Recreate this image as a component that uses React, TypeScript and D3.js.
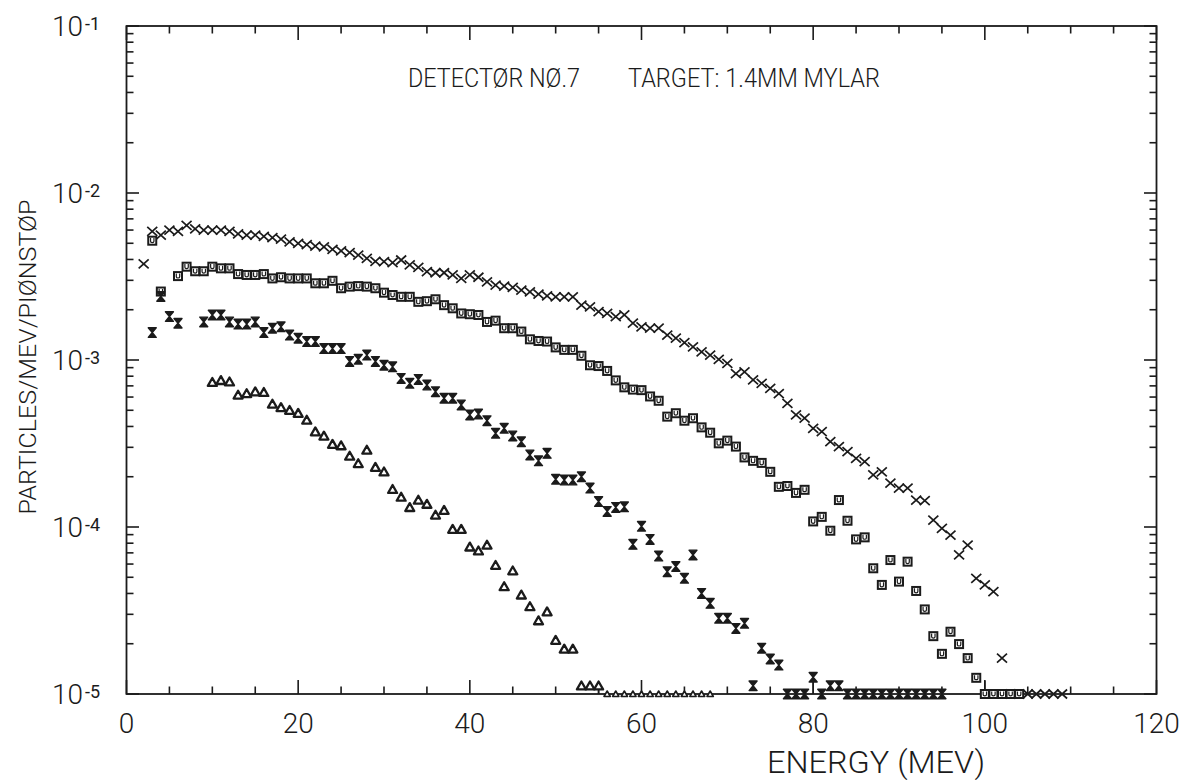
import React, { useRef, useEffect } from "react";
import * as d3 from "d3";

const WIDTH = 1191;
const HEIGHT = 780;

// energy (MeV), particles / MeV / pion stop  (values at 1e-5 sit on the axis)
const crossData: [number, number][] = [
  [2, 3.76e-3], [3, 5.9e-3], [4, 5.6e-3], [5, 6.0e-3], [6, 5.9e-3], [7, 6.4e-3], [8, 6.1e-3],
  [9, 6.0e-3], [10, 6.0e-3], [11, 6.0e-3], [12, 5.9e-3], [13, 5.7e-3], [14, 5.6e-3], [15, 5.6e-3],
  [16, 5.5e-3], [17, 5.4e-3], [18, 5.3e-3], [19, 5.1e-3], [20, 5.0e-3], [21, 4.9e-3], [22, 4.8e-3],
  [23, 4.75e-3], [24, 4.6e-3], [25, 4.5e-3], [26, 4.4e-3], [27, 4.25e-3], [28, 4.06e-3], [29, 3.9e-3],
  [30, 3.88e-3], [31, 3.83e-3], [32, 3.97e-3], [33, 3.71e-3], [34, 3.59e-3], [35, 3.38e-3], [36, 3.33e-3],
  [37, 3.33e-3], [38, 3.23e-3], [39, 3.08e-3], [40, 3.23e-3], [41, 3.13e-3], [42, 2.94e-3], [43, 2.81e-3],
  [44, 2.77e-3], [45, 2.72e-3], [46, 2.62e-3], [47, 2.56e-3], [48, 2.48e-3], [49, 2.42e-3], [50, 2.39e-3],
  [51, 2.39e-3], [52, 2.39e-3], [53, 2.13e-3], [54, 2.08e-3], [55, 1.95e-3], [56, 1.9e-3], [57, 1.82e-3],
  [58, 1.86e-3], [59, 1.66e-3], [60, 1.58e-3], [61, 1.55e-3], [62, 1.55e-3], [63, 1.41e-3], [64, 1.35e-3],
  [65, 1.27e-3], [66, 1.2e-3], [67, 1.12e-3], [68, 1.07e-3], [69, 1.01e-3], [70, 9.55e-4], [71, 8.3e-4],
  [72, 8.5e-4], [73, 7.6e-4], [74, 7.25e-4], [75, 6.76e-4], [76, 6.3e-4], [77, 5.5e-4], [78, 4.69e-4],
  [79, 4.48e-4], [80, 3.9e-4], [81, 3.72e-4], [82, 3.24e-4], [83, 3.03e-4], [84, 2.83e-4], [85, 2.58e-4],
  [86, 2.46e-4], [87, 2.05e-4], [88, 2.14e-4], [89, 1.83e-4], [90, 1.71e-4], [91, 1.71e-4], [92, 1.45e-4],
  [93, 1.44e-4], [94, 1.1e-4], [95, 9.8e-5], [96, 8.95e-5], [97, 6.8e-5], [98, 7.8e-5], [99, 4.93e-5],
  [100, 4.5e-5], [101, 4.1e-5], [102, 1.64e-5],
  [103, 1e-5], [104, 1e-5], [105, 1e-5], [106, 1e-5], [107, 1e-5], [108, 1e-5], [109, 1e-5],
];

const squareData: [number, number][] = [
  [3, 5.18e-3], [4, 2.57e-3], [6, 3.18e-3], [7, 3.62e-3], [8, 3.4e-3], [9, 3.4e-3], [10, 3.62e-3],
  [11, 3.54e-3], [12, 3.54e-3], [13, 3.27e-3], [14, 3.23e-3], [15, 3.23e-3], [16, 3.27e-3], [17, 3.08e-3],
  [18, 3.13e-3], [19, 3.08e-3], [20, 3.08e-3], [21, 3.08e-3], [22, 2.88e-3], [23, 2.88e-3], [24, 2.98e-3],
  [25, 2.69e-3], [26, 2.75e-3], [27, 2.77e-3], [28, 2.75e-3], [29, 2.69e-3], [30, 2.53e-3], [31, 2.45e-3],
  [32, 2.39e-3], [33, 2.39e-3], [34, 2.23e-3], [35, 2.25e-3], [36, 2.31e-3], [37, 2.13e-3], [38, 2.04e-3],
  [39, 1.9e-3], [40, 1.88e-3], [41, 1.86e-3], [42, 1.69e-3], [43, 1.72e-3], [44, 1.55e-3], [45, 1.55e-3],
  [46, 1.48e-3], [47, 1.33e-3], [48, 1.3e-3], [49, 1.29e-3], [50, 1.19e-3], [51, 1.15e-3], [52, 1.15e-3],
  [53, 1.06e-3], [54, 9.3e-4], [55, 9.2e-4], [56, 8.6e-4], [57, 7.55e-4], [58, 6.86e-4], [59, 6.65e-4],
  [60, 6.6e-4], [61, 6.05e-4], [62, 5.7e-4], [63, 4.58e-4], [64, 4.8e-4], [65, 4.33e-4], [66, 4.48e-4],
  [67, 3.95e-4], [68, 3.67e-4], [69, 3.17e-4], [70, 3.29e-4], [71, 3.03e-4], [72, 2.61e-4], [73, 2.49e-4],
  [74, 2.42e-4], [75, 2.14e-4], [76, 1.74e-4], [77, 1.76e-4], [78, 1.6e-4], [79, 1.67e-4], [80, 1.08e-4],
  [81, 1.15e-4], [82, 9.5e-5], [83, 1.45e-4], [84, 1.09e-4], [85, 8.43e-5], [86, 8.67e-5], [87, 5.66e-5],
  [88, 4.5e-5], [89, 6.34e-5], [90, 4.71e-5], [91, 6.2e-5], [92, 4.14e-5], [93, 3.21e-5], [94, 2.22e-5],
  [95, 1.74e-5], [96, 2.36e-5], [97, 1.99e-5], [98, 1.64e-5], [99, 1.25e-5],
  [100, 1e-5], [101, 1e-5], [102, 1e-5], [103, 1e-5], [104, 1e-5],
];

const hourglassData: [number, number][] = [
  [3, 1.46e-3], [4, 2.4e-3], [5, 1.82e-3], [6, 1.66e-3], [9, 1.69e-3], [10, 1.86e-3], [11, 1.86e-3],
  [12, 1.69e-3], [13, 1.64e-3], [14, 1.64e-3], [15, 1.69e-3], [16, 1.46e-3], [17, 1.55e-3], [18, 1.58e-3],
  [19, 1.41e-3], [20, 1.35e-3], [21, 1.29e-3], [22, 1.29e-3], [23, 1.17e-3], [24, 1.17e-3], [25, 1.17e-3],
  [26, 9.8e-4], [27, 1.01e-3], [28, 1.07e-3], [29, 9.8e-4], [30, 9.3e-4], [31, 9.1e-4], [32, 7.76e-4],
  [33, 7.25e-4], [34, 7.65e-4], [35, 7.08e-4], [36, 6.46e-4], [37, 5.9e-4], [38, 5.9e-4], [39, 5.38e-4],
  [40, 4.69e-4], [41, 4.75e-4], [42, 4.33e-4], [43, 3.64e-4], [44, 3.9e-4], [45, 3.51e-4], [46, 3.24e-4],
  [47, 2.7e-4], [48, 2.49e-4], [49, 2.76e-4], [50, 1.93e-4], [51, 1.91e-4], [52, 1.91e-4], [53, 2.0e-4],
  [54, 1.71e-4], [55, 1.42e-4], [56, 1.24e-4], [57, 1.31e-4], [58, 1.32e-4], [59, 7.87e-5], [60, 1.01e-4],
  [61, 8.43e-5], [62, 6.7e-5], [63, 5.4e-5], [64, 5.8e-5], [65, 4.93e-5], [66, 6.8e-5], [67, 4.0e-5],
  [68, 3.49e-5], [69, 2.84e-5], [70, 2.84e-5], [71, 2.47e-5], [72, 2.65e-5], [73, 1.12e-5], [74, 1.88e-5],
  [75, 1.62e-5], [76, 1.49e-5], [77, 1e-5], [78, 1e-5], [79, 1e-5], [80, 1.26e-5], [81, 1e-5],
  [82, 1.12e-5], [83, 1.12e-5], [84, 1e-5], [85, 1e-5], [86, 1e-5], [87, 1e-5], [88, 1e-5], [89, 1e-5],
  [90, 1e-5], [91, 1e-5], [92, 1e-5], [93, 1e-5], [94, 1e-5], [95, 1e-5],
];

const triangleData: [number, number][] = [
  [10, 7.35e-4], [11, 7.55e-4], [12, 7.4e-4], [13, 6.17e-4], [14, 6.3e-4], [15, 6.46e-4], [16, 6.4e-4],
  [17, 5.45e-4], [18, 5.2e-4], [19, 5.0e-4], [20, 4.8e-4], [21, 4.37e-4], [22, 3.72e-4], [23, 3.51e-4],
  [24, 3.13e-4], [25, 3.07e-4], [26, 2.66e-4], [27, 2.4e-4], [28, 2.89e-4], [29, 2.28e-4], [30, 2.14e-4],
  [31, 1.68e-4], [32, 1.51e-4], [33, 1.31e-4], [34, 1.45e-4], [35, 1.37e-4], [36, 1.18e-4], [37, 1.26e-4],
  [38, 9.7e-5], [39, 9.7e-5], [40, 7.6e-5], [41, 7.2e-5], [42, 7.8e-5], [43, 5.9e-5], [44, 4.4e-5],
  [45, 5.47e-5], [46, 3.92e-5], [47, 3.34e-5], [48, 2.75e-5], [49, 3.11e-5], [50, 2.1e-5], [51, 1.86e-5],
  [52, 1.86e-5], [53, 1.12e-5], [54, 1.12e-5], [55, 1.12e-5],
  [56, 1e-5], [57, 1e-5], [58, 1e-5], [59, 1e-5], [60, 1e-5], [61, 1e-5], [62, 1e-5], [63, 1e-5],
  [64, 1e-5], [65, 1e-5], [66, 1e-5], [67, 1e-5], [68, 1e-5],
];

// lower error bars that reach the axis: energy, upper value
const errorBars: [number, number][] = [[55, 1.12e-5], [80, 1.26e-5], [100, 1.2e-5]];

const xTickLabels = [0, 20, 40, 60, 80, 100, 120];
const yDecades = [-1, -2, -3, -4, -5];

const INK = "#1b1b1b";
const FONT = "Roboto, 'Liberation Sans', sans-serif";

function App() {
  const svgRef = useRef(null);

  useEffect(() => {
    const svg = d3.select(svgRef.current);
    svg.selectAll("*").remove();

    const x = d3.scaleLinear().domain([0, 120]).range([126.5, 1156.5]);
    const y = d3.scaleLog().domain([1e-5, 1e-1]).range([694, 26]);
    const [x0, x1] = x.range();
    const [y0, y1] = y.range();

    // frame
    svg.append("rect")
      .attr("x", x0).attr("y", y1)
      .attr("width", x1 - x0).attr("height", y0 - y1)
      .attr("fill", "none").attr("stroke", INK).attr("stroke-width", 1.8);

    // x ticks, every 5 MeV, long every 20
    const ticks = svg.append("g").attr("stroke", INK).attr("stroke-width", 1.6);
    d3.range(0, 121, 5).forEach((e) => {
      const len = e % 20 === 0 ? 14 : 7.5;
      ticks.append("line").attr("x1", x(e)).attr("x2", x(e)).attr("y1", y0).attr("y2", y0 - len);
      ticks.append("line").attr("x1", x(e)).attr("x2", x(e)).attr("y1", y1).attr("y2", y1 + len);
    });

    // y ticks (log): decades long, 2..9 short
    yDecades.forEach((d) => {
      const v = Math.pow(10, d);
      ticks.append("line").attr("x1", x0).attr("x2", x0 + 12.5).attr("y1", y(v)).attr("y2", y(v));
      ticks.append("line").attr("x1", x1).attr("x2", x1 - 12.5).attr("y1", y(v)).attr("y2", y(v));
    });
    [-5, -4, -3, -2].forEach((d) => {
      for (let m = 2; m <= 9; m++) {
        const v = m * Math.pow(10, d);
        ticks.append("line").attr("x1", x0).attr("x2", x0 + 7).attr("y1", y(v)).attr("y2", y(v));
        ticks.append("line").attr("x1", x1).attr("x2", x1 - 7).attr("y1", y(v)).attr("y2", y(v));
      }
    });

    // tick labels
    const labels = svg.append("g").attr("fill", INK).attr("font-family", FONT).attr("font-weight", 300);
    xTickLabels.forEach((t) => {
      labels.append("text")
        .attr("x", x(t)).attr("y", y0 + 39)
        .attr("text-anchor", "middle")
        .attr("font-size", 28)
        .text(t);
    });
    yDecades.forEach((d) => {
      const ty = y(Math.pow(10, d));
      labels.append("text")
        .attr("x", 83).attr("y", ty + 10)
        .attr("text-anchor", "end")
        .attr("font-size", 28)
        .text("10");
      labels.append("text")
        .attr("x", 85).attr("y", ty + 4)
        .attr("font-size", 18)
        .attr("font-weight", 400)
        .text("-" + Math.abs(d));
    });

    // axis titles
    labels.append("text")
      .attr("x", 767).attr("y", 773)
      .attr("font-size", 32)
      .attr("textLength", 218).attr("lengthAdjust", "spacingAndGlyphs")
      .text("ENERGY (MEV)");
    labels.append("text")
      .attr("transform", "translate(36,357) rotate(-90)")
      .attr("text-anchor", "middle")
      .attr("font-size", 24)
      .attr("textLength", 315).attr("lengthAdjust", "spacingAndGlyphs")
      .text("PARTICLES/MEV/PIØNSTØP");

    // title
    labels.append("text")
      .attr("x", 408).attr("y", 86.5)
      .attr("font-size", 25)
      .attr("textLength", 172).attr("lengthAdjust", "spacingAndGlyphs")
      .text("DETECTØR NØ.7");
    labels.append("text")
      .attr("x", 628).attr("y", 86.5)
      .attr("font-size", 25)
      .attr("textLength", 252).attr("lengthAdjust", "spacingAndGlyphs")
      .text("TARGET: 1.4MM MYLAR");

    const place = (d: [number, number]) => `translate(${x(d[0])},${y(d[1])})`;

    // error bars down to the axis
    svg.append("g").selectAll("line")
      .data(errorBars).enter().append("line")
      .attr("x1", (d) => x(d[0])).attr("x2", (d) => x(d[0]))
      .attr("y1", (d) => y(d[1])).attr("y2", y0)
      .attr("stroke", INK).attr("stroke-width", 1.5);

    // crosses
    svg.append("g").selectAll("path")
      .data(crossData).enter().append("path")
      .attr("transform", place)
      .attr("d", "M-5,-4.5L5,4.5M-5,4.5L5,-4.5")
      .attr("stroke", INK).attr("stroke-width", 1.7).attr("fill", "none");

    // boxed u
    const sq = svg.append("g").selectAll("g")
      .data(squareData).enter().append("g")
      .attr("transform", place);
    sq.append("rect")
      .attr("x", -4).attr("y", -4).attr("width", 8).attr("height", 8)
      .attr("fill", "#fff").attr("stroke", INK).attr("stroke-width", 2);
    sq.append("path")
      .attr("d", "M-1.7,-2.6V0.6Q-1.7,1.9 0,1.9Q1.7,1.9 1.7,0.6V-2.6")
      .attr("fill", "none").attr("stroke", INK).attr("stroke-width", 1.2);

    // hourglass
    svg.append("g").selectAll("path")
      .data(hourglassData).enter().append("path")
      .attr("transform", place)
      .attr("d", "M-4,-4.8H4L0,0L4,4.8H-4L0,0Z")
      .attr("fill", INK).attr("stroke", INK).attr("stroke-width", 1.4).attr("stroke-linejoin", "round");

    // triangles, smaller where they sit on the axis
    svg.append("g").selectAll("path")
      .data(triangleData).enter().append("path")
      .attr("transform", (d) => place(d) + (d[1] <= 1e-5 ? " scale(0.7)" : ""))
      .attr("d", "M0,-4.3L4.5,3.6H-4.5Z")
      .attr("fill", "#fff").attr("stroke", INK).attr("stroke-width", 2.3).attr("stroke-linejoin", "round");
  }, []);

  return (
    <svg
      ref={svgRef}
      width={WIDTH}
      height={HEIGHT}
      style={{ position: "absolute", left: 0, top: 0, background: "#fff" }}
    ></svg>
  );
}

export default App;
